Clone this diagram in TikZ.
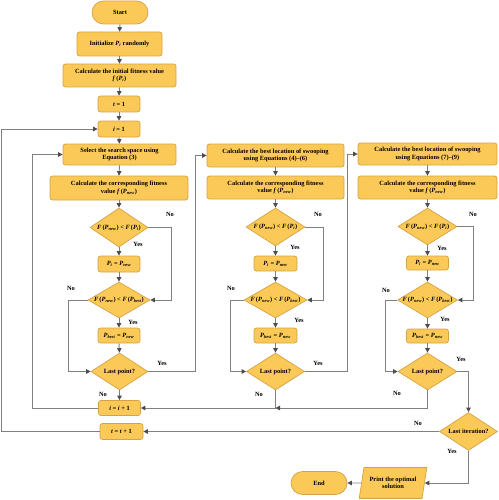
\documentclass[tikz,border=0pt]{standalone}
\usepackage{fontspec}
\setmainfont{Liberation Serif}
\usetikzlibrary{shapes.geometric,arrows.meta}
\definecolor{boxfill}{HTML}{FBC957}
\definecolor{boxline}{HTML}{D6A243}
\definecolor{conn}{HTML}{808080}
\definecolor{tipc}{HTML}{4D4D4D}
\newcommand\PPnew{\textit{P}\textsubscript{\textit{new}}}
\newcommand\PPbest{\textit{P}\textsubscript{\textit{best}}}
\newcommand\PPi{\textit{P}\textsubscript{\textit{i}}}
\newcommand\FFnew{\textit{F}\,(\PPnew)}
\tikzset{
  txt/.style={font=\fontsize{6.4}{7.4}\selectfont\bfseries, align=center, inner sep=0pt, text=black},
  box/.style={txt, rectangle, rounded corners=2.5pt, draw=boxline, fill=boxfill, line width=0.7pt},
  term/.style={box, rounded corners=11.5pt},
  dia/.style={shape=diamond, draw=boxline, fill=boxfill, line width=0.7pt, inner sep=0pt},
  para/.style={txt, trapezium, trapezium left angle=72, trapezium right angle=108, trapezium stretches=true, draw=boxline, fill=boxfill, line width=0.7pt},
  arr/.style={draw=conn, line width=0.9pt, -{Triangle[length=4.5pt,width=4.5pt,color=tipc]}},
  lab/.style={txt},
}
\begin{document}
\begin{tikzpicture}[x=1pt,y=-1pt]
\useasboundingbox (0,0) rectangle (498,500);

% column 1
\node[term, minimum width=56pt, minimum height=23pt] (start) at (120,12.5) {Start};
\node[box, minimum width=85pt, minimum height=24pt] (init) at (119.5,44) {Initialize \PPi{} randomly};
\node[box, minimum width=113pt, minimum height=23pt] (fit0) at (119.5,75.5) {Calculate the initial fitness value\\ \textit{f}\,(\PPi)};
\node[box, minimum width=42pt, minimum height=16pt] (t1) at (119,104) {\textit{t} = 1};
\node[box, minimum width=42pt, minimum height=16pt] (i1) at (119,129) {\textit{i} = 1};
\node[box, minimum width=113pt, minimum height=21pt] (sel) at (119.5,154.5) {Select the search space using\\ Equation (3)};
\node[box, minimum width=138pt, minimum height=24pt] (cor1) at (119,188) {Calculate the corresponding fitness\\ value \textit{f}\,(\PPnew)};
\node[dia, minimum width=58pt, minimum height=39pt, label={[txt]center:\FFnew{} < \textit{F}\,(\PPi)}] (d11) at (119,227.5) {};
\node[box, minimum width=42pt, minimum height=16pt] (pi1) at (119,264) {\PPi{} = \PPnew};
\node[dia, minimum width=62pt, minimum height=36pt, label={[txt]center:\FFnew{} < \textit{F}\,(\PPbest)}] (d12) at (119,300) {};
\node[box, minimum width=42pt, minimum height=15pt] (pb1) at (119,335.5) {\PPbest{} = \PPnew};
\node[dia, minimum width=57pt, minimum height=37pt, label={[txt]center:Last point?}] (lp1) at (119.5,371.5) {};
\node[box, minimum width=42pt, minimum height=15pt] (ii) at (119.5,408) {\textit{i} = \textit{i} + 1};
\node[box, minimum width=43pt, minimum height=16pt] (tt) at (121.5,431.5) {\textit{t} = \textit{t} + 1};

% column 2
\node[box, minimum width=137pt, minimum height=23pt] (best2) at (275.5,155.5) {Calculate the best location of swooping\\ using Equations (4)--(6)};
\node[box, minimum width=137pt, minimum height=23pt] (cor2) at (275.5,187.5) {Calculate the corresponding fitness\\ value \textit{f}\,(\PPnew)};
\node[dia, minimum width=59pt, minimum height=38pt, label={[txt]center:\FFnew{} < \textit{F}\,(\PPi)}] (d21) at (275.5,227) {};
\node[box, minimum width=43pt, minimum height=15pt] (pi2) at (275.5,263.5) {\PPi{} = \PPnew};
\node[dia, minimum width=63pt, minimum height=36pt, label={[txt]center:\FFnew{} < \textit{F}\,(\PPbest)}] (d22) at (275.5,300) {};
\node[box, minimum width=43pt, minimum height=15pt] (pb2) at (275.5,335.5) {\PPbest{} = \PPnew};
\node[dia, minimum width=58pt, minimum height=37pt, label={[txt]center:Last point?}] (lp2) at (275.5,371.5) {};

% column 3
\node[box, minimum width=139pt, minimum height=22pt] (best3) at (427.5,154) {Calculate the best location of swooping\\ using Equations (7)--(9)};
\node[box, minimum width=139pt, minimum height=23pt] (cor3) at (427.5,187.5) {Calculate the corresponding fitness\\ value \textit{f}\,(\PPnew)};
\node[dia, minimum width=59pt, minimum height=37pt, label={[txt]center:\FFnew{} < \textit{F}\,(\PPi)}] (d31) at (427.5,226.5) {};
\node[box, minimum width=42pt, minimum height=14pt] (pi3) at (427.5,263) {\PPi{} = \PPnew};
\node[dia, minimum width=60pt, minimum height=36pt, label={[txt]center:\FFnew{} < \textit{F}\,(\PPbest)}] (d32) at (427.5,300) {};
\node[box, minimum width=42pt, minimum height=14pt] (pb3) at (427.5,336) {\PPbest{} = \PPnew};
\node[dia, minimum width=59pt, minimum height=37pt, label={[txt]center:Last point?}] (lp3) at (427.5,371.5) {};

% final part
\node[dia, minimum width=58pt, minimum height=38pt, label={[txt]center:Last iteration?}] (lit) at (468.5,431.5) {};
\node[para, minimum width=68pt, minimum height=31pt] (prt) at (393,483) {Print the optimal\\ solution};
\node[term, minimum width=56pt, minimum height=23pt] (end) at (319,483) {End};

% vertical flow
\foreach \a/\b in {start/init, init/fit0, fit0/t1, t1/i1, i1/sel, sel/cor1, cor1/d11, d11/pi1, pi1/d12, d12/pb1, pb1/lp1, lp1/ii,
                   best2/cor2, cor2/d21, d21/pi2, pi2/d22, d22/pb2, pb2/lp2,
                   best3/cor3, cor3/d31, d31/pi3, pi3/d32, d32/pb3, pb3/lp3}
  \draw[arr] (\a.south) -- (\b.north);

% column 1 branches
\draw[arr] (d11.east) -- ++(23,0) |- (d12.east);
\draw[arr] (d12.west) -- ++(-19,0) |- (lp1.west);
\draw[arr] (lp1.east) -- ++(47,0) |- (best2.west);
\draw[arr] (ii.west) -- ++(-66,0) |- (sel.west);
\draw[arr] (tt.west) -- ++(-98,0) |- (i1.west);

% column 2 branches
\draw[arr] (d21.east) -- ++(18,0) |- (d22.east);
\draw[arr] (d22.west) -- ++(-13,0) |- (lp2.west);
\draw[arr] (lp2.east) -- ++(43,0) |- (best3.west);
\coordinate (j2) at (lp2.south |- ii.east);
\draw[arr] (lp2.south) -- (j2) -- (ii.east);

% column 3 branches
\draw[arr] (d31.east) -- ++(16,0) |- (d32.east);
\draw[arr] (d32.west) -- ++(-12,0) |- (lp3.west);
\draw[arr] (lp3.east) -| (lit.north);
\draw[arr] (lp3.south) |- (j2);

% final branches
\draw[arr] (lit.west) -- (tt.east);
\draw[arr] (lit.south) |- (prt.east);
\draw[arr] (prt.west) -- (end.east);

% labels
\node[lab] (l1) at (170,214) {No};
\node[lab] (l2) at (138,244) {Yes};
\node[lab] (l3) at (71,288) {No};
\node[lab] (l4) at (133,322) {Yes};
\node[lab] (l5) at (162,363) {Yes};
\node[lab] (l6) at (103,394) {No};
\node[lab] (l7) at (318,214) {No};
\node[lab] (l8) at (295,247) {Yes};
\node[lab] (l9) at (231,288) {No};
\node[lab] (l10) at (299,320) {Yes};
\node[lab] (l11) at (318,363) {Yes};
\node[lab] (l12) at (259,394) {No};
\node[lab] (l13) at (473,214) {No};
\node[lab] (l14) at (442,248) {Yes};
\node[lab] (l15) at (386,290) {No};
\node[lab] (l16) at (445,319) {Yes};
\node[lab] (l17) at (461,359) {Yes};
\node[lab] (l18) at (397,393) {No};
\node[lab] (l19) at (418,423) {No};
\node[lab] (l20) at (452,451) {Yes};
\end{tikzpicture}
\end{document}
